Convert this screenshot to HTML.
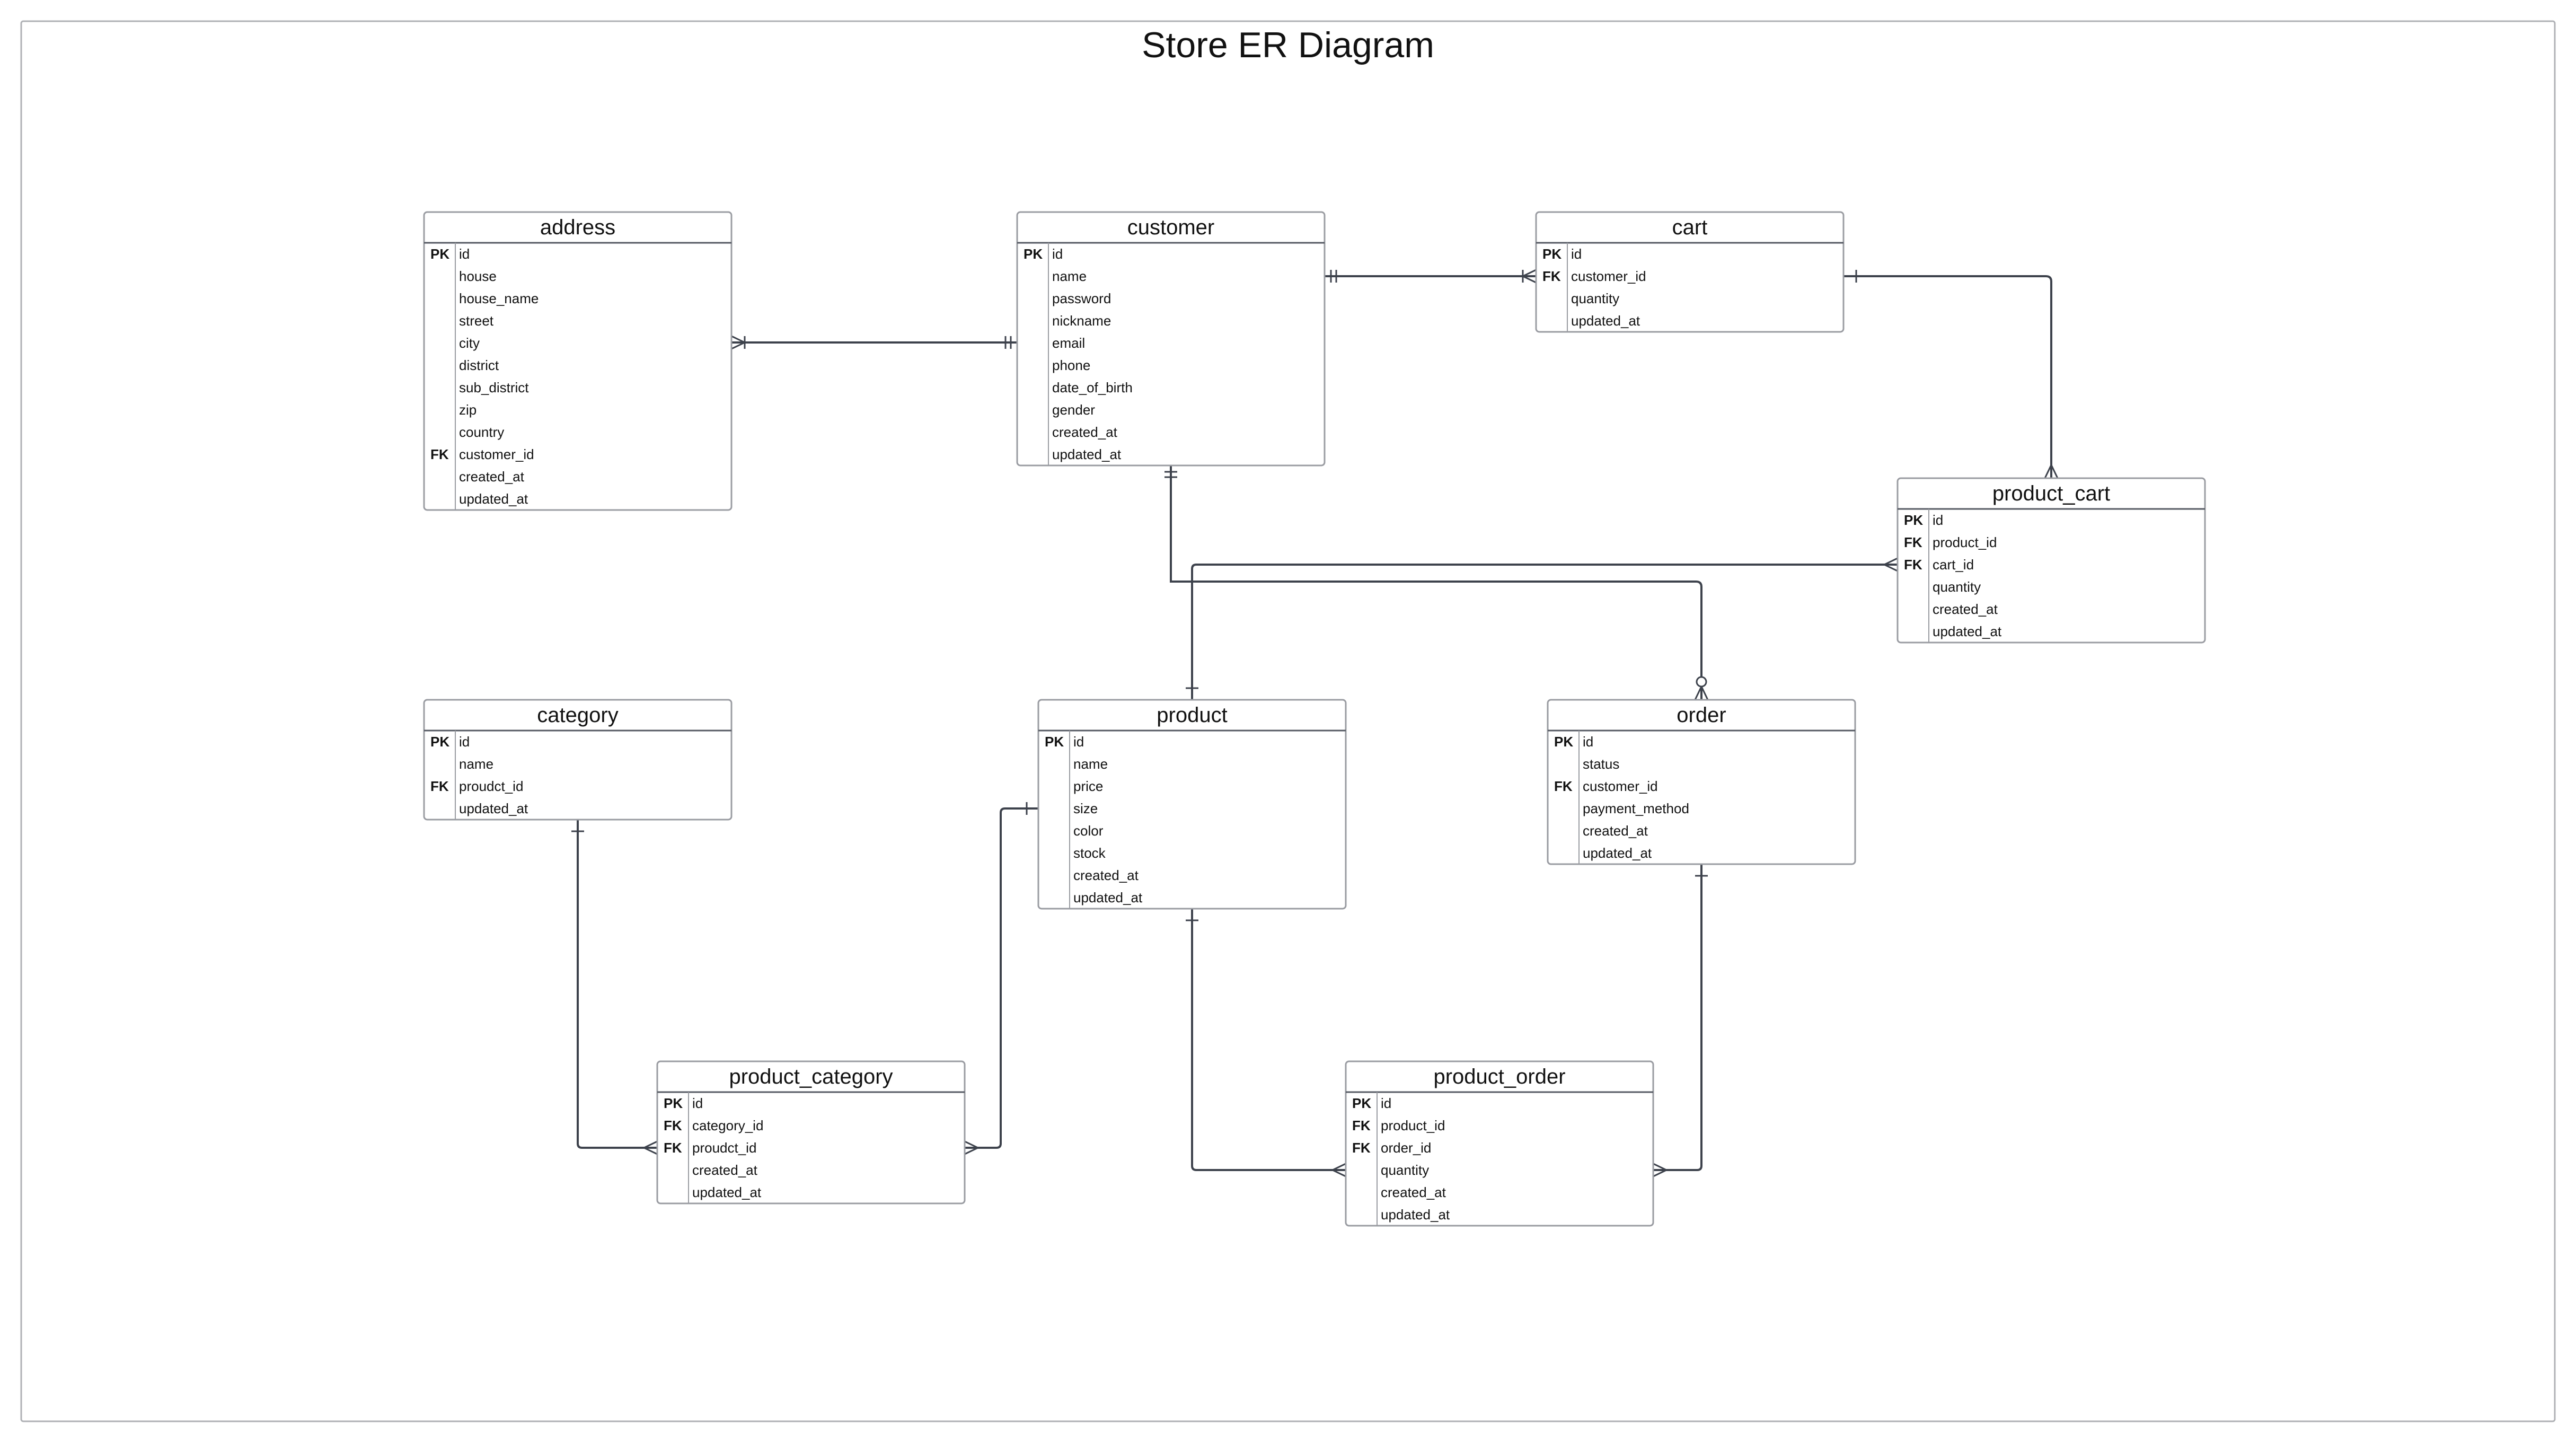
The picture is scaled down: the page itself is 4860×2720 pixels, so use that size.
<!DOCTYPE html>
<html><head><meta charset="utf-8"><style>
html,body{margin:0;padding:0;background:#fff;}
svg{display:block;}
text{font-family:"Liberation Sans",sans-serif;fill:#111;}
.h{font-size:40px;text-anchor:middle;}
.f{font-size:26px;}
.k{font-size:26px;font-weight:bold;}
.box{fill:#fff;stroke:#9a9ca2;stroke-width:3;}
.sep{stroke:#555a63;stroke-width:3;}
.col{stroke:#9a9ca2;stroke-width:2;}
.ln{fill:none;stroke:#3d424c;stroke-width:4;}
.mk{fill:none;stroke:#3d424c;stroke-width:3;}
</style></head><body>
<svg width="4860" height="2720" viewBox="0 0 4860 2720" xmlns="http://www.w3.org/2000/svg">
<rect x="40" y="40" width="4780" height="2641" fill="none" stroke="#b0b2b6" stroke-width="3" rx="4"/>
<text x="2430" y="108" style="font-size:68px;text-anchor:middle">Store ER Diagram</text>

<path class="ln" d="M1380 646 H1919"/>
<path class="ln" d="M2499 521 H2898"/>
<path class="ln" d="M3478 521 H3860 Q3870 521 3870 531 V902"/>
<path class="ln" d="M2209 878 V1097 H3200 Q3210 1097 3210 1107 V1320"/>
<path class="ln" d="M2249 1320 V1073 Q2249 1065 2257 1065 H3580"/>
<path class="ln" d="M1090 1546 V2157 Q1090 2165 1098 2165 H1240"/>
<path class="ln" d="M1959 1525 H1896 Q1888 1525 1888 1533 V2157 Q1888 2165 1880 2165 H1820"/>
<path class="ln" d="M2249 1714 V2199 Q2249 2207 2257 2207 H2539"/>
<path class="ln" d="M3210 1630 V2199 Q3210 2207 3202 2207 H3119"/>

<path class="mk" d="M1380 634 L1405 646 L1380 658 M1405 634 V658"/>
<path class="mk" d="M1897 634 V658 M1907 634 V658"/>
<path class="mk" d="M2511 509 V533 M2521 509 V533"/>
<path class="mk" d="M2898 509 L2873 521 L2898 533 M2873 509 V533"/>
<path class="mk" d="M3502 509 V533"/>
<path class="mk" d="M3858 902 L3870 877 L3882 902"/>
<path class="mk" d="M2197 890 H2221 M2197 900 H2221"/>
<path class="mk" d="M3198 1320 L3210 1295 L3222 1320"/>
<circle class="mk" cx="3210" cy="1286" r="9" style="fill:#fff"/>
<path class="mk" d="M2237 1298 H2261"/>
<path class="mk" d="M3580 1053 L3555 1065 L3580 1077"/>
<path class="mk" d="M1078 1568 H1102"/>
<path class="mk" d="M1240 2153 L1215 2165 L1240 2177"/>
<path class="mk" d="M1937 1513 V1537"/>
<path class="mk" d="M1820 2153 L1845 2165 L1820 2177"/>
<path class="mk" d="M2237 1736 H2261"/>
<path class="mk" d="M2539 2195 L2514 2207 L2539 2219"/>
<path class="mk" d="M3198 1652 H3222"/>
<path class="mk" d="M3119 2195 L3144 2207 L3119 2219"/>

<rect class="box" x="800" y="400" width="580" height="562" rx="6"/>
<line class="sep" x1="800" y1="458" x2="1380" y2="458"/>
<line class="col" x1="859" y1="458" x2="859" y2="962"/>
<text class="h" x="1090" y="442">address</text>
<text class="k" x="812" y="488">PK</text><text class="f" x="866" y="488">id</text>
<text class="f" x="866" y="530">house</text>
<text class="f" x="866" y="572">house_name</text>
<text class="f" x="866" y="614">street</text>
<text class="f" x="866" y="656">city</text>
<text class="f" x="866" y="698">district</text>
<text class="f" x="866" y="740">sub_district</text>
<text class="f" x="866" y="782">zip</text>
<text class="f" x="866" y="824">country</text>
<text class="k" x="812" y="866">FK</text><text class="f" x="866" y="866">customer_id</text>
<text class="f" x="866" y="908">created_at</text>
<text class="f" x="866" y="950">updated_at</text>

<rect class="box" x="1919" y="400" width="580" height="478" rx="6"/>
<line class="sep" x1="1919" y1="458" x2="2499" y2="458"/>
<line class="col" x1="1978" y1="458" x2="1978" y2="878"/>
<text class="h" x="2209" y="442">customer</text>
<text class="k" x="1931" y="488">PK</text><text class="f" x="1985" y="488">id</text>
<text class="f" x="1985" y="530">name</text>
<text class="f" x="1985" y="572">password</text>
<text class="f" x="1985" y="614">nickname</text>
<text class="f" x="1985" y="656">email</text>
<text class="f" x="1985" y="698">phone</text>
<text class="f" x="1985" y="740">date_of_birth</text>
<text class="f" x="1985" y="782">gender</text>
<text class="f" x="1985" y="824">created_at</text>
<text class="f" x="1985" y="866">updated_at</text>

<rect class="box" x="2898" y="400" width="580" height="226" rx="6"/>
<line class="sep" x1="2898" y1="458" x2="3478" y2="458"/>
<line class="col" x1="2957" y1="458" x2="2957" y2="626"/>
<text class="h" x="3188" y="442">cart</text>
<text class="k" x="2910" y="488">PK</text><text class="f" x="2964" y="488">id</text>
<text class="k" x="2910" y="530">FK</text><text class="f" x="2964" y="530">customer_id</text>
<text class="f" x="2964" y="572">quantity</text>
<text class="f" x="2964" y="614">updated_at</text>

<rect class="box" x="3580" y="902" width="580" height="310" rx="6"/>
<line class="sep" x1="3580" y1="960" x2="4160" y2="960"/>
<line class="col" x1="3639" y1="960" x2="3639" y2="1212"/>
<text class="h" x="3870" y="944">product_cart</text>
<text class="k" x="3592" y="990">PK</text><text class="f" x="3646" y="990">id</text>
<text class="k" x="3592" y="1032">FK</text><text class="f" x="3646" y="1032">product_id</text>
<text class="k" x="3592" y="1074">FK</text><text class="f" x="3646" y="1074">cart_id</text>
<text class="f" x="3646" y="1116">quantity</text>
<text class="f" x="3646" y="1158">created_at</text>
<text class="f" x="3646" y="1200">updated_at</text>

<rect class="box" x="800" y="1320" width="580" height="226" rx="6"/>
<line class="sep" x1="800" y1="1378" x2="1380" y2="1378"/>
<line class="col" x1="859" y1="1378" x2="859" y2="1546"/>
<text class="h" x="1090" y="1362">category</text>
<text class="k" x="812" y="1408">PK</text><text class="f" x="866" y="1408">id</text>
<text class="f" x="866" y="1450">name</text>
<text class="k" x="812" y="1492">FK</text><text class="f" x="866" y="1492">proudct_id</text>
<text class="f" x="866" y="1534">updated_at</text>

<rect class="box" x="1959" y="1320" width="580" height="394" rx="6"/>
<line class="sep" x1="1959" y1="1378" x2="2539" y2="1378"/>
<line class="col" x1="2018" y1="1378" x2="2018" y2="1714"/>
<text class="h" x="2249" y="1362">product</text>
<text class="k" x="1971" y="1408">PK</text><text class="f" x="2025" y="1408">id</text>
<text class="f" x="2025" y="1450">name</text>
<text class="f" x="2025" y="1492">price</text>
<text class="f" x="2025" y="1534">size</text>
<text class="f" x="2025" y="1576">color</text>
<text class="f" x="2025" y="1618">stock</text>
<text class="f" x="2025" y="1660">created_at</text>
<text class="f" x="2025" y="1702">updated_at</text>

<rect class="box" x="2920" y="1320" width="580" height="310" rx="6"/>
<line class="sep" x1="2920" y1="1378" x2="3500" y2="1378"/>
<line class="col" x1="2979" y1="1378" x2="2979" y2="1630"/>
<text class="h" x="3210" y="1362">order</text>
<text class="k" x="2932" y="1408">PK</text><text class="f" x="2986" y="1408">id</text>
<text class="f" x="2986" y="1450">status</text>
<text class="k" x="2932" y="1492">FK</text><text class="f" x="2986" y="1492">customer_id</text>
<text class="f" x="2986" y="1534">payment_method</text>
<text class="f" x="2986" y="1576">created_at</text>
<text class="f" x="2986" y="1618">updated_at</text>

<rect class="box" x="1240" y="2002" width="580" height="268" rx="6"/>
<line class="sep" x1="1240" y1="2060" x2="1820" y2="2060"/>
<line class="col" x1="1299" y1="2060" x2="1299" y2="2270"/>
<text class="h" x="1530" y="2044">product_category</text>
<text class="k" x="1252" y="2090">PK</text><text class="f" x="1306" y="2090">id</text>
<text class="k" x="1252" y="2132">FK</text><text class="f" x="1306" y="2132">category_id</text>
<text class="k" x="1252" y="2174">FK</text><text class="f" x="1306" y="2174">proudct_id</text>
<text class="f" x="1306" y="2216">created_at</text>
<text class="f" x="1306" y="2258">updated_at</text>

<rect class="box" x="2539" y="2002" width="580" height="310" rx="6"/>
<line class="sep" x1="2539" y1="2060" x2="3119" y2="2060"/>
<line class="col" x1="2598" y1="2060" x2="2598" y2="2312"/>
<text class="h" x="2829" y="2044">product_order</text>
<text class="k" x="2551" y="2090">PK</text><text class="f" x="2605" y="2090">id</text>
<text class="k" x="2551" y="2132">FK</text><text class="f" x="2605" y="2132">product_id</text>
<text class="k" x="2551" y="2174">FK</text><text class="f" x="2605" y="2174">order_id</text>
<text class="f" x="2605" y="2216">quantity</text>
<text class="f" x="2605" y="2258">created_at</text>
<text class="f" x="2605" y="2300">updated_at</text>
</svg>
</body></html>
